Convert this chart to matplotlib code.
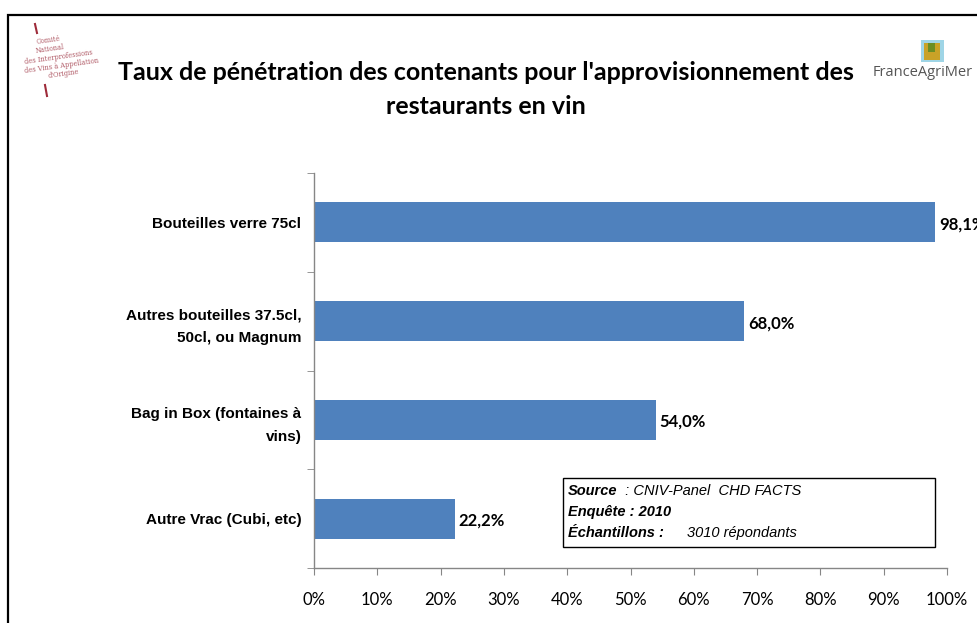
import matplotlib.pyplot as plt
from matplotlib.patches import Rectangle
import numpy as np

# donnees
categories = ["Bouteilles verre 75cl",
              "Autres bouteilles 37.5cl,\n50cl, ou Magnum",
              "Bag in Box (fontaines à\nvins)",
              "Autre Vrac (Cubi, etc)"]
valeurs = [98.1, 68.0, 54.0, 22.2]
xticks = list(range(0, 101, 10))
xlabels = [f"{v}%" for v in xticks]

bleu = "#4F81BD"
gris = "#868686"

fig = plt.figure(figsize=(9.78, 6.23), dpi=100)
fig.patch.set_facecolor("white")

# cadre noir autour du graphique
fig.patches.append(Rectangle((8 / 978, -0.05), 1.2, 1 - 15 / 623 + 0.05,
                             transform=fig.transFigure, fill=False,
                             edgecolor="black", linewidth=1.6))

ax = fig.add_axes([314 / 978, 1 - 568 / 623, 633 / 978, 395 / 623])
y = np.arange(len(categories))
ax.barh(y, valeurs, height=0.405, color=bleu)
ax.set_ylim(len(categories) - 0.5, -0.5)
ax.set_xlim(0, 100)

for yi, v in zip(y, valeurs):
    ax.text(v + 0.6, yi + 0.02, f"{v:.1f}%".replace(".", ","), va="center", ha="left",
            fontsize=12, fontweight="bold", family="Lato", clip_on=False)

ax.set_yticks(y)
ax.set_yticklabels(categories, fontsize=11, fontweight="bold",
                   family="Liberation Sans", linespacing=1.75)
ax.set_yticks(np.arange(-0.5, len(categories), 1), minor=True)
ax.tick_params(axis="y", which="major", length=0, pad=9)
ax.tick_params(axis="y", which="minor", length=5, color=gris, direction="out")
ax.set_xticks(xticks)
ax.set_xticklabels(xlabels, fontsize=12, family="Lato")
ax.tick_params(axis="x", length=5, color=gris, pad=12)

for s in ["top", "right"]:
    ax.spines[s].set_visible(False)
for s in ["left", "bottom"]:
    ax.spines[s].set_color(gris)
    ax.spines[s].set_linewidth(1.0)

# titre
fig.text(486 / 978, 1 - 73 / 623, "Taux de pénétration des contenants pour l'approvisionnement des",
         ha="center", va="center", fontsize=18, fontweight="bold", family="Lato")
fig.text(486 / 978, 1 - 107 / 623, "restaurants en vin",
         ha="center", va="center", fontsize=18, fontweight="bold", family="Lato")

# encadre source
fig.patches.append(Rectangle((563 / 978, 1 - 547 / 623), 372 / 978, 69 / 623,
                             transform=fig.transFigure, fill=False,
                             edgecolor="black", linewidth=1.0))
x0 = 568 / 978
fig.text(x0, 1 - 491 / 623, "Source", fontsize=10.5, fontweight="bold", style="italic",
         family="Liberation Sans", va="center")
fig.text(x0 + 53 / 978, 1 - 491 / 623, " : CNIV-Panel  CHD FACTS", fontsize=10.5, style="italic",
         family="Liberation Sans", va="center")
fig.text(x0, 1 - 512 / 623, "Enquête : 2010", fontsize=10.5, fontweight="bold", style="italic",
         family="Liberation Sans", va="center")
fig.text(x0, 1 - 533 / 623, "Échantillons :", fontsize=10.5, fontweight="bold", style="italic",
         family="Liberation Sans", va="center")
fig.text(x0 + 119 / 978, 1 - 533 / 623, "3010 répondants", fontsize=10.5, style="italic",
         family="Liberation Sans", va="center")

# logo CNIV (approximation texte)
rouge = "#9E2B3A"
fig.add_artist(plt.Line2D([35 / 978, 37 / 978], [1 - 24 / 623, 1 - 33 / 623],
                          color=rouge, linewidth=1.5, transform=fig.transFigure))
fig.add_artist(plt.Line2D([45 / 978, 47 / 978], [1 - 85 / 623, 1 - 96 / 623],
                          color=rouge, linewidth=1.5, transform=fig.transFigure))
logo_lignes = ["Comité", "National", "des Interprofessions", "des Vins à Appellation", "d'Origine"]
logo_x = [48, 50, 58, 62, 64]
for i, (t, lx) in enumerate(zip(logo_lignes, logo_x)):
    fig.text(lx / 978, 1 - (40 + i * 8.5) / 623, t, fontsize=4.8, color="#B05A66",
             family="DejaVu Serif", ha="center", va="center", rotation=8)

# logo FranceAgriMer (approximation)
fig.text(923 / 978, 1 - 73 / 623, "FranceAgriMer", fontsize=10.5, color="#555555",
         family="Open Sans", ha="center", va="center")
fig.patches.append(Rectangle((921 / 978, 1 - 62 / 623), 23 / 978, 22 / 623,
                             transform=fig.transFigure, facecolor="#9FD5E6", edgecolor="none"))
fig.patches.append(Rectangle((924 / 978, 1 - 60 / 623), 16 / 978, 17 / 623,
                             transform=fig.transFigure, facecolor="#C9A227", edgecolor="none"))
fig.patches.append(Rectangle((928 / 978, 1 - 52 / 623), 7 / 978, 9 / 623,
                             transform=fig.transFigure, facecolor="#6B8E23", edgecolor="none"))

fig.savefig("out.png", dpi=100)
